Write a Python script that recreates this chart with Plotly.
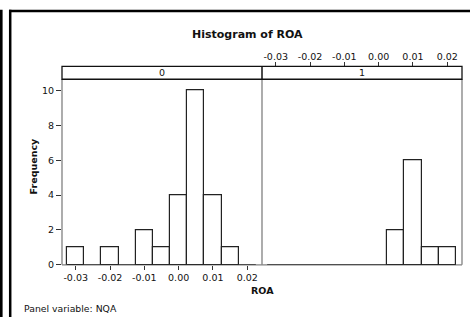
import plotly.graph_objects as go

# ---- data ----
bin_mids = [-0.030, -0.025, -0.020, -0.015, -0.010, -0.005, 0.000, 0.005, 0.010, 0.015, 0.020]
bin_width = 0.005
counts_nqa0 = [1, 0, 1, 0, 2, 1, 4, 10, 4, 1, 0]
counts_nqa1 = [0, 0, 0, 0, 0, 0, 0, 2, 6, 1, 1]
panel_labels = ["0", "1"]
x_ticks = [-0.03, -0.02, -0.01, 0.00, 0.01, 0.02]
x_ticktext = ["-0.03", "-0.02", "-0.01", "0.00", "0.01", "0.02"]
y_ticks = [0, 2, 4, 6, 8, 10]

W, H = 470, 322
FONT = "DejaVu Sans"

def px(x):
    return x / W

def py(y):
    return 1 - y / H

# panel geometry (pixels)
L0, M, R0 = 62, 262, 462
TOP, BOT, STRIP_TOP = 80.5, 269, 67.5
xrange_ = [-0.034, 0.0243]
yrange_ = [0, 10.65]

fig = go.Figure()

def add_panel(counts, xa, ya):
    nz_x = [m for m, c in zip(bin_mids, counts) if c > 0]
    nz_y = [c for c in counts if c > 0]
    edges = [bin_mids[0] - bin_width / 2, bin_mids[-1] + bin_width / 2]
    fig.add_trace(go.Scatter(x=edges, y=[0, 0], mode="lines",
                             line=dict(color="#111", width=1.3),
                             xaxis=xa, yaxis=ya, hoverinfo="skip", showlegend=False))
    fig.add_trace(go.Bar(x=nz_x, y=nz_y, width=bin_width,
                         marker=dict(color="white", line=dict(color="#222", width=1.2)),
                         xaxis=xa, yaxis=ya, showlegend=False))

add_panel(counts_nqa0, "x", "y")
add_panel(counts_nqa1, "x2", "y2")
# top axis for right panel
fig.add_trace(go.Scatter(x=[None], y=[None], xaxis="x3", yaxis="y2",
                         showlegend=False, hoverinfo="skip"))

tickfont = dict(family=FONT, size=9.5, color="#111")
ydom = [py(BOT), py(TOP)]

fig.update_layout(
    width=W, height=H,
    margin=dict(l=0, r=0, t=0, b=0),
    paper_bgcolor="white", plot_bgcolor="white",
    bargap=0,
    xaxis=dict(domain=[px(L0), px(M)], range=xrange_, tickvals=x_ticks, ticktext=x_ticktext,
               ticks="outside", ticklen=4, tickcolor="#333", tickfont=tickfont,
               showgrid=False, zeroline=False, showline=False, anchor="y"),
    yaxis=dict(domain=ydom, range=yrange_, tickvals=y_ticks, ticks="outside", ticklen=5,
               tickcolor="#333", tickfont=tickfont, showgrid=False, zeroline=False,
               showline=False, anchor="x"),
    xaxis2=dict(domain=[px(M), px(R0)], range=xrange_, showticklabels=False, ticks="",
                showgrid=False, zeroline=False, showline=False, anchor="y2"),
    yaxis2=dict(domain=ydom, range=yrange_, showticklabels=False, ticks="",
                showgrid=False, zeroline=False, showline=False, anchor="x2"),
    xaxis3=dict(overlaying="x2", range=xrange_, anchor="free", position=py(STRIP_TOP),
                side="top", tickvals=x_ticks, ticktext=x_ticktext, ticks="outside",
                ticklen=4, tickcolor="#333", tickfont=tickfont, showgrid=False,
                zeroline=False, showline=False, ticklabelstandoff=-1),
)

shapes = []
gray = "#808080"
# panel frames
for xv in (L0, M, R0):
    shapes.append(dict(type="line", xref="paper", yref="paper", x0=px(xv), x1=px(xv),
                       y0=py(BOT), y1=py(TOP), line=dict(color=gray, width=1.3)))
shapes.append(dict(type="line", xref="paper", yref="paper", x0=px(L0), x1=px(R0),
                   y0=py(BOT), y1=py(BOT), line=dict(color=gray, width=1.3), layer="below"))
# strip
shapes.append(dict(type="rect", xref="paper", yref="paper", x0=px(L0), x1=px(R0),
                   y0=py(TOP), y1=py(STRIP_TOP), line=dict(color="#111", width=1.3),
                   fillcolor="white"))
shapes.append(dict(type="line", xref="paper", yref="paper", x0=px(M), x1=px(M),
                   y0=py(TOP), y1=py(STRIP_TOP), line=dict(color="#111", width=1.5)))
# outer frame
shapes.append(dict(type="line", xref="paper", yref="paper", x0=px(9), x1=1,
                   y0=py(11.2), y1=py(11.2), line=dict(color="#000", width=2.5)))
shapes.append(dict(type="line", xref="paper", yref="paper", x0=px(10.2), x1=px(10.2),
                   y0=py(10), y1=0, line=dict(color="#000", width=2.5)))
shapes.append(dict(type="rect", xref="paper", yref="paper", x0=0, x1=px(2.6),
                   y0=0, y1=py(10), line=dict(width=0), fillcolor="#000"))
fig.update_layout(shapes=shapes)

ann = []
ann.append(dict(text="<b>Histogram of ROA</b>", x=px(247.5), y=py(35), xref="paper", yref="paper",
                showarrow=False, font=dict(family=FONT, size=11, color="#111"),
                xanchor="center", yanchor="middle"))
for lab, cx in zip(panel_labels, [(L0 + M) / 2, (M + R0) / 2]):
    ann.append(dict(text=lab, x=px(cx), y=py((TOP + STRIP_TOP) / 2), xref="paper", yref="paper",
                    showarrow=False, font=dict(family=FONT, size=9.5, color="#111"),
                    xanchor="center", yanchor="middle"))
ann.append(dict(text="<b>ROA</b>", x=px(262), y=py(295), xref="paper", yref="paper",
                showarrow=False, font=dict(family=FONT, size=9.5, color="#111"),
                xanchor="center", yanchor="middle"))
ann.append(dict(text="<b>Frequency</b>", x=px(33), y=py(169), xref="paper", yref="paper",
                showarrow=False, textangle=-90, font=dict(family=FONT, size=9.5, color="#111"),
                xanchor="center", yanchor="middle"))
ann.append(dict(text="Panel variable: NQA", x=px(21.5), y=py(313), xref="paper", yref="paper",
                showarrow=False, font=dict(family=FONT, size=9.3, color="#111"),
                xanchor="left", yanchor="middle"))
fig.update_layout(annotations=ann)

fig.write_html("out.html")
